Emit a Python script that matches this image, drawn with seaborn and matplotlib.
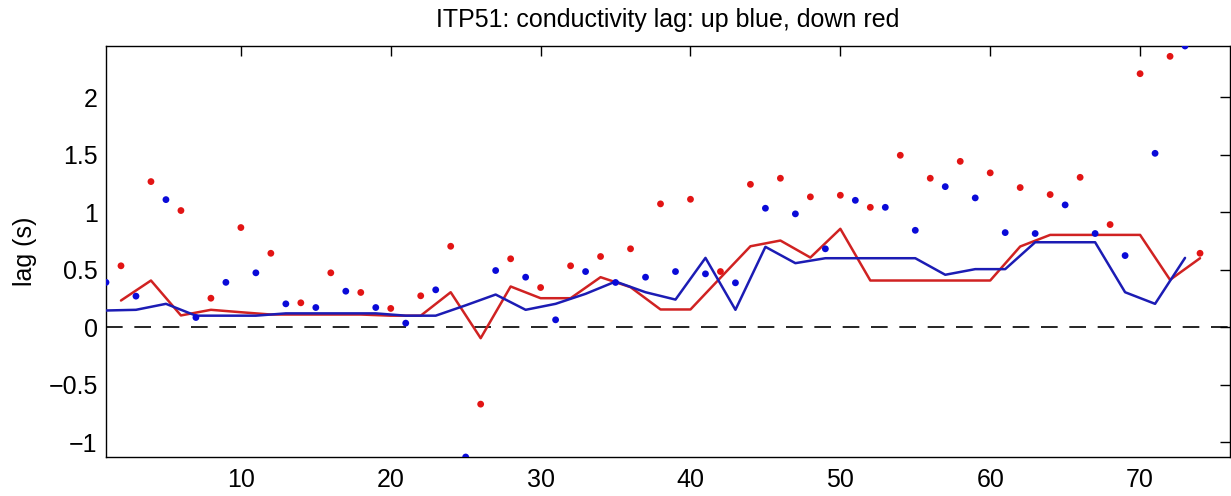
import matplotlib
matplotlib.use("Agg")
import matplotlib.pyplot as plt
import seaborn as sns
import numpy as np
import pandas as pd

# ---- data ----
x_up = list(range(1, 74, 2))      # profiles going up (blue)
x_down = list(range(2, 75, 2))    # profiles going down (red)

up_dots = [0.39, 0.27, 1.11, 0.084, 0.39, 0.473, 0.203, 0.171, 0.313, 0.171,
           0.035, 0.325, -1.13, 0.493, 0.435, 0.064, 0.484, 0.389, 0.435, 0.484,
           0.464, 0.386, 1.035, 0.986, 0.682, 1.104, 1.043, 0.843, 1.223, 1.125,
           0.823, 0.815, 1.064, 0.815, 0.623, 1.513, 2.447]
up_line = [0.145, 0.151, 0.203, 0.10, 0.10, 0.10, 0.12, 0.12, 0.12, 0.12,
           0.10, 0.10, 0.19, 0.284, 0.151, 0.203, 0.29, 0.397, 0.304, 0.24,
           0.603, 0.151, 0.699, 0.557, 0.60, 0.60, 0.60, 0.60, 0.456, 0.505,
           0.505, 0.739, 0.739, 0.739, 0.304, 0.203, 0.603]

down_dots = [0.534, 1.267, 1.015, 0.252, 0.867, 0.643, 0.212, 0.473, 0.302, 0.163,
             0.273, 0.704, -0.67, 0.595, 0.345, 0.534, 0.615, 0.682, 1.073, 1.113,
             0.484, 1.243, 1.296, 1.134, 1.148, 1.043, 1.496, 1.296, 1.443, 1.343,
             1.215, 1.154, 1.304, 0.893, 2.206, 2.357, 0.643]
down_line = [0.232, 0.406, 0.102, 0.151, 0.13, 0.11, 0.11, 0.11, 0.11, 0.10,
             0.10, 0.304, -0.096, 0.354, 0.252, 0.252, 0.435, 0.348, 0.154, 0.154,
             0.43, 0.704, 0.754, 0.606, 0.856, 0.406, 0.406, 0.406, 0.406, 0.406,
             0.702, 0.803, 0.803, 0.803, 0.803, 0.412, 0.60]

x_ticks = [10, 20, 30, 40, 50, 60, 70]
y_ticks = [-1, -0.5, 0, 0.5, 1, 1.5, 2]
y_tick_labels = ["\u22121", "\u22120.5", "0", "0.5", "1", "1.5", "2"]

title = "ITP51: conductivity lag: up blue, down red"
ylabel = "lag (s)"

up = pd.DataFrame({"x": x_up, "dot": up_dots, "line": up_line})
down = pd.DataFrame({"x": x_down, "dot": down_dots, "line": down_line})

# ---- style ----
sns.set_style("white")
plt.rcParams['font.family'] = ['Liberation Sans', 'DejaVu Sans']
plt.rcParams['axes.unicode_minus'] = True
plt.rcParams['text.color'] = 'black'
plt.rcParams['axes.labelcolor'] = 'black'

fig = plt.figure(figsize=(12.31, 4.96), dpi=100)
ax = fig.add_axes([106 / 1231, 39 / 496, 1124 / 1231, 411 / 496])

blue_line = "#1c1cb4"
red_line = "#d02222"
blue_dot = "#0a0ad8"
red_dot = "#e21414"

ax.axhline(0, color="black", lw=1.2, dashes=(10, 7), zorder=1)

sns.lineplot(data=down, x="x", y="line", ax=ax, color=red_line, lw=1.8,
             estimator=None, sort=False, zorder=3)
sns.lineplot(data=up, x="x", y="line", ax=ax, color=blue_line, lw=1.8,
             estimator=None, sort=False, zorder=3)
sns.scatterplot(data=down, x="x", y="dot", ax=ax, color=red_dot, s=24,
                edgecolor="none", zorder=4)
sns.scatterplot(data=up, x="x", y="dot", ax=ax, color=blue_dot, s=24,
                edgecolor="none", zorder=4)

ax.set_xlim(1, 76)
ax.set_ylim(-1.13, 2.447)
ax.set_xticks(x_ticks)
ax.set_yticks(y_ticks)
ax.set_yticklabels(y_tick_labels)
ax.set_xlabel("")
ax.set_ylabel(ylabel, fontsize=18, labelpad=8, color="black")
ax.set_title(title, fontsize=18, pad=14, color="black")

ax.tick_params(direction="in", length=7, width=1, labelsize=18,
               top=True, right=True, color="black", labelcolor="black")
ax.tick_params(axis="x", pad=8)
ax.tick_params(axis="y", pad=6)
for sp in ax.spines.values():
    sp.set_visible(True)
    sp.set_color("black")
    sp.set_linewidth(1.0)

fig.savefig("out.png", dpi=100)
